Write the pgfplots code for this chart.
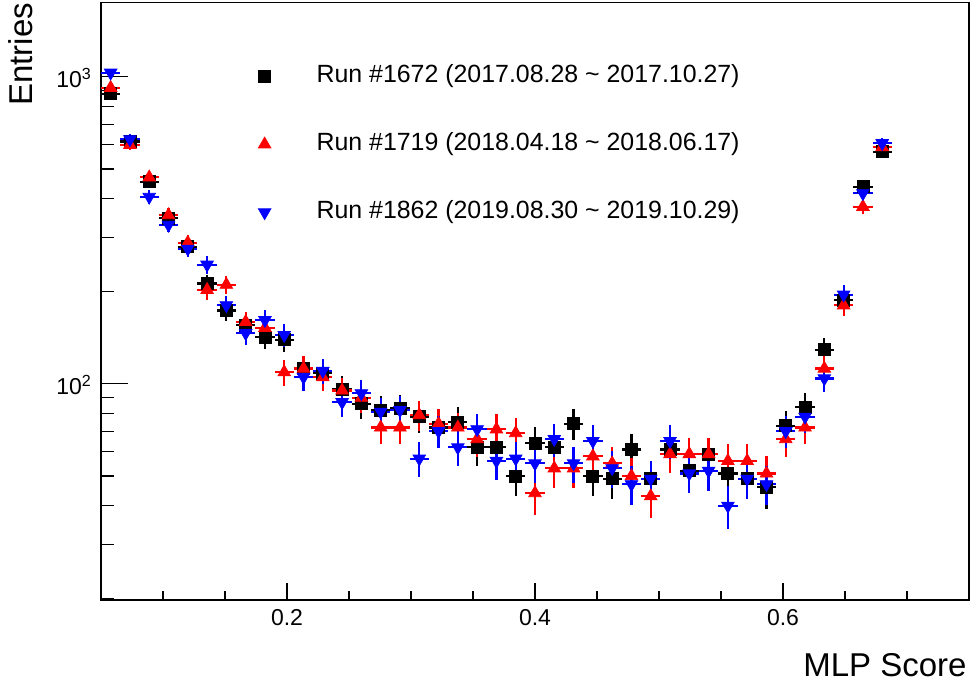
\documentclass[border=0pt]{standalone}
\usepackage{fontspec}
\setmainfont{Liberation Sans}
\usepackage{pgfplots}
\pgfplotsset{compat=1.18}
\usepackage{pgfplotstable}

% bin centre, then value and sqrt error for the three runs
\pgfplotstableread{
x        a    ea    b    eb    c    ec
0.05778  880  29.7  920  30.3  1030 32.1
0.07333  615  24.8  600  24.5  625  25.0
0.08889  455  21.3  470  21.7  406  20.1
0.10444  346  18.6  354  18.8  329  18.1
0.12000  279  16.7  288  17.0  275  16.6
0.13556  212  14.6  202  14.2  244  15.6
0.15111  173  13.2  210  14.5  180  13.4
0.16667  155  12.4  159  12.6  146  12.1
0.18222  142  11.9  152  12.3  161  12.7
0.19778  139  11.8  109  10.4  144  12.0
0.21333  112  10.6  112  10.6  105  10.2
0.22889  108  10.4  105  10.2  110  10.5
0.24444  96   9.8   95   9.7   87   9.3
0.26000  86   9.3   90   9.5   93   9.6
0.27556  82   9.1   72   8.5   81   9.0
0.29111  83   9.1   72   8.5   82   9.1
0.30667  78   8.8   79   8.9   57   7.5
0.32222  72   8.5   74   8.6   70   8.4
0.33778  75   8.7   72   8.5   62   7.9
0.35333  62   7.9   66   8.1   71   8.4
0.36889  62   7.9   71   8.4   56   7.5
0.38444  50   7.1   69   8.3   57   7.5
0.40000  64   8.0   44   6.6   55   7.4
0.41556  62   7.9   53   7.3   66   8.1
0.43111  74   8.6   53   7.3   55   7.4
0.44667  50   7.1   58   7.6   65   8.1
0.46222  49   7.0   55   7.4   53   7.3
0.47778  61   7.8   50   7.1   47   6.9
0.49333  49   7.0   43   6.6   49   7.0
0.50889  61   7.8   59   7.7   65   8.1
0.52444  52   7.2   59   7.7   51   7.1
0.54000  59   7.7   59   7.7   52   7.2
0.55556  51   7.1   56   7.5   40   6.3
0.57111  49   7.0   56   7.5   49   7.0
0.58667  46   6.8   51   7.1   47   6.9
0.60222  73   8.5   66   8.1   70   8.4
0.61778  84   9.2   72   8.5   78   8.8
0.63333  129  11.4  112  10.6  104  10.2
0.64889  187  13.7  180  13.4  195  14.0
0.66444  438  20.9  377  19.4  417  20.4
0.68000  570  23.9  590  24.3  607  24.6
}\runs

\begin{document}
\begin{tikzpicture}
\useasboundingbox (-50.5pt,-43.5pt) rectangle (435pt,300pt);
\begin{axis}[
  name=ax, at={(0,0)}, anchor=south west,
  scale only axis, width=434pt, height=298.65pt,
  xmin=0.05, xmax=0.75,
  ymode=log, ymin=19.74, ymax=1742,
  xtick={0.2,0.4,0.6}, xticklabels={0.2,0.4,0.6},
  minor xtick={0.1,0.15,0.25,0.3,0.35,0.45,0.5,0.55,0.65,0.7},
  ytick={100,1000}, yticklabels={10\textsuperscript{2},10\textsuperscript{3}},
  minor ytick={20,30,40,50,60,70,80,90,200,300,400,500,600,700,800,900},
  tick align=inside, xtick pos=bottom, ytick pos=left,
  every major x tick/.append style={/pgfplots/major tick length=8.5pt},
  every minor x tick/.append style={/pgfplots/minor tick length=4.25pt},
  every major y tick/.append style={/pgfplots/major tick length=13.5pt},
  every minor y tick/.append style={/pgfplots/minor tick length=6.5pt},
  axis line style={line width=0.6pt},
  tick style={line width=0.6pt, black},
  ticklabel style={font=\fontsize{11.5}{13}\selectfont},
  yticklabel style={anchor=base east, yshift=-5.6pt, xshift=-1pt},
  xticklabel style={yshift=-1pt},
  legend cell align=left,
  legend style={draw=none, fill=none, inner sep=0pt, row sep=22pt,
    at={(rel axis cs:0.1809,0.8974)}, anchor=north west,
    font=\fontsize{12.45}{14}\selectfont,
    nodes={text height=9pt, text depth=3pt, inner ysep=0pt}},
  legend image code/.code={\draw[#1] plot coordinates {(0pt,0pt)}; \path[draw=none,fill=none] (0pt,0pt) -- (24pt,0pt);},
  error bars/x dir=both, error bars/x fixed=0.0077778,
  error bars/y dir=both, error bars/y explicit,
  error bars/error mark=none,
]
\addplot[black, only marks, mark=square*, mark size=3pt,
  error bars/error bar style={line width=1.1pt, black}]
  table[x=x, y=a, y error=ea] {\runs};
\addlegendentry{Run \#1672 (2017.08.28 \textasciitilde{} 2017.10.27)}
\addplot[red, only marks, mark=triangle*, mark size=3.6pt,
  error bars/error bar style={line width=1.1pt, red}]
  table[x=x, y=b, y error=eb] {\runs};
\addlegendentry{Run \#1719 (2018.04.18 \textasciitilde{} 2018.06.17)}
\addplot[blue, only marks, mark=triangle*, mark size=3.6pt, mark options={rotate=180},
  error bars/error bar style={line width=1.1pt, blue}]
  table[x=x, y=c, y error=ec] {\runs};
\addlegendentry{Run \#1862 (2019.08.30 \textasciitilde{} 2019.10.29)}
\end{axis}
\node[rotate=90, anchor=base east, inner sep=0pt, font=\fontsize{16.5}{18}\selectfont] at (-34pt,298.65pt) {Entries};
\node[anchor=base east, inner sep=0pt, font=\fontsize{16.5}{18}\selectfont] at (433pt,-38pt) {MLP Score};
\end{tikzpicture}
\end{document}
